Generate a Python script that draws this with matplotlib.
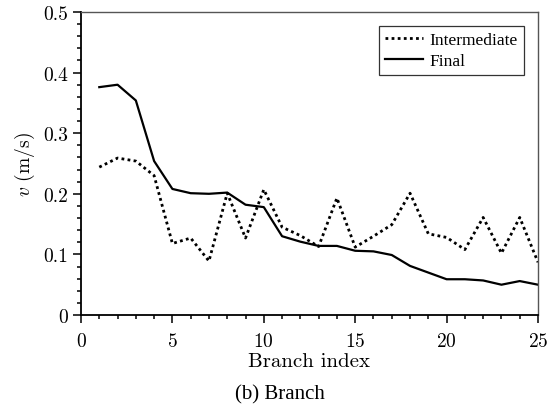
import matplotlib
matplotlib.use('Agg')
import matplotlib.pyplot as plt
from matplotlib.ticker import MultipleLocator

plt.rcParams['font.family'] = ['cmr10', 'DejaVu Serif']
plt.rcParams['mathtext.fontset'] = 'cm'
plt.rcParams['axes.formatter.use_mathtext'] = True

### Data ###
branch = list(range(1, 26))
intermediate = [0.244, 0.259, 0.254, 0.230, 0.118, 0.127, 0.089, 0.201, 0.127, 0.207,
                0.145, 0.131, 0.113, 0.193, 0.112, 0.130, 0.149, 0.201, 0.134, 0.128,
                0.108, 0.161, 0.102, 0.161, 0.087]
final = [0.376, 0.380, 0.354, 0.254, 0.208, 0.201, 0.200, 0.202, 0.182, 0.178,
         0.130, 0.121, 0.114, 0.114, 0.106, 0.105, 0.099, 0.081, 0.070, 0.059,
         0.059, 0.057, 0.050, 0.056, 0.050]
yticks = [0, 0.1, 0.2, 0.3, 0.4, 0.5]
ytick_labels = ['0', '0.1', '0.2', '0.3', '0.4', '0.5']

fig = plt.figure(figsize=(5.59, 4.10), dpi=100)
ax = fig.add_axes([81/559, 1 - 316/410, 457/559, 303/410])

ax.plot(branch, intermediate, linestyle=(0, (1, 1.2)), color='black', linewidth=2, label='Intermediate')
ax.plot(branch, final, linestyle='-', color='black', linewidth=1.6, label='Final')

ax.set_xlim(0, 25)
ax.set_ylim(0, 0.5)
ax.xaxis.set_major_locator(MultipleLocator(5))
ax.xaxis.set_minor_locator(MultipleLocator(1))
ax.set_yticks(yticks)
ax.set_yticklabels(ytick_labels)
ax.yaxis.set_minor_locator(MultipleLocator(0.02))

ax.tick_params(which='both', direction='out', top=False, right=False, labelsize=14, width=1.1)
ax.tick_params(which='major', length=5.5, pad=4)
ax.tick_params(which='minor', length=3)
ax.tick_params(axis='x', which='major', pad=6.5)

for s in ['top', 'right']:
    ax.spines[s].set_color('#555555')
    ax.spines[s].set_linewidth(1.0)
for s in ['left', 'bottom']:
    ax.spines[s].set_linewidth(1.3)

ax.set_xlabel('Branch index', fontsize=15, labelpad=2)
ax.set_ylabel('$v$ (m/s)', fontsize=14, labelpad=4)

leg = ax.legend(loc='upper right', frameon=True, fancybox=False,
                prop={'family': 'Liberation Serif', 'size': 12.5},
                edgecolor='black', handlelength=2.2, handletextpad=0.4,
                borderpad=0.35, labelspacing=0.25, borderaxespad=0.8)
leg.get_frame().set_linewidth(0.9)

fig.text(0.5, 0.036, '(b) Branch', ha='center', va='center', fontsize=15,
         family='Liberation Serif')

plt.savefig('out.png', dpi=100)
